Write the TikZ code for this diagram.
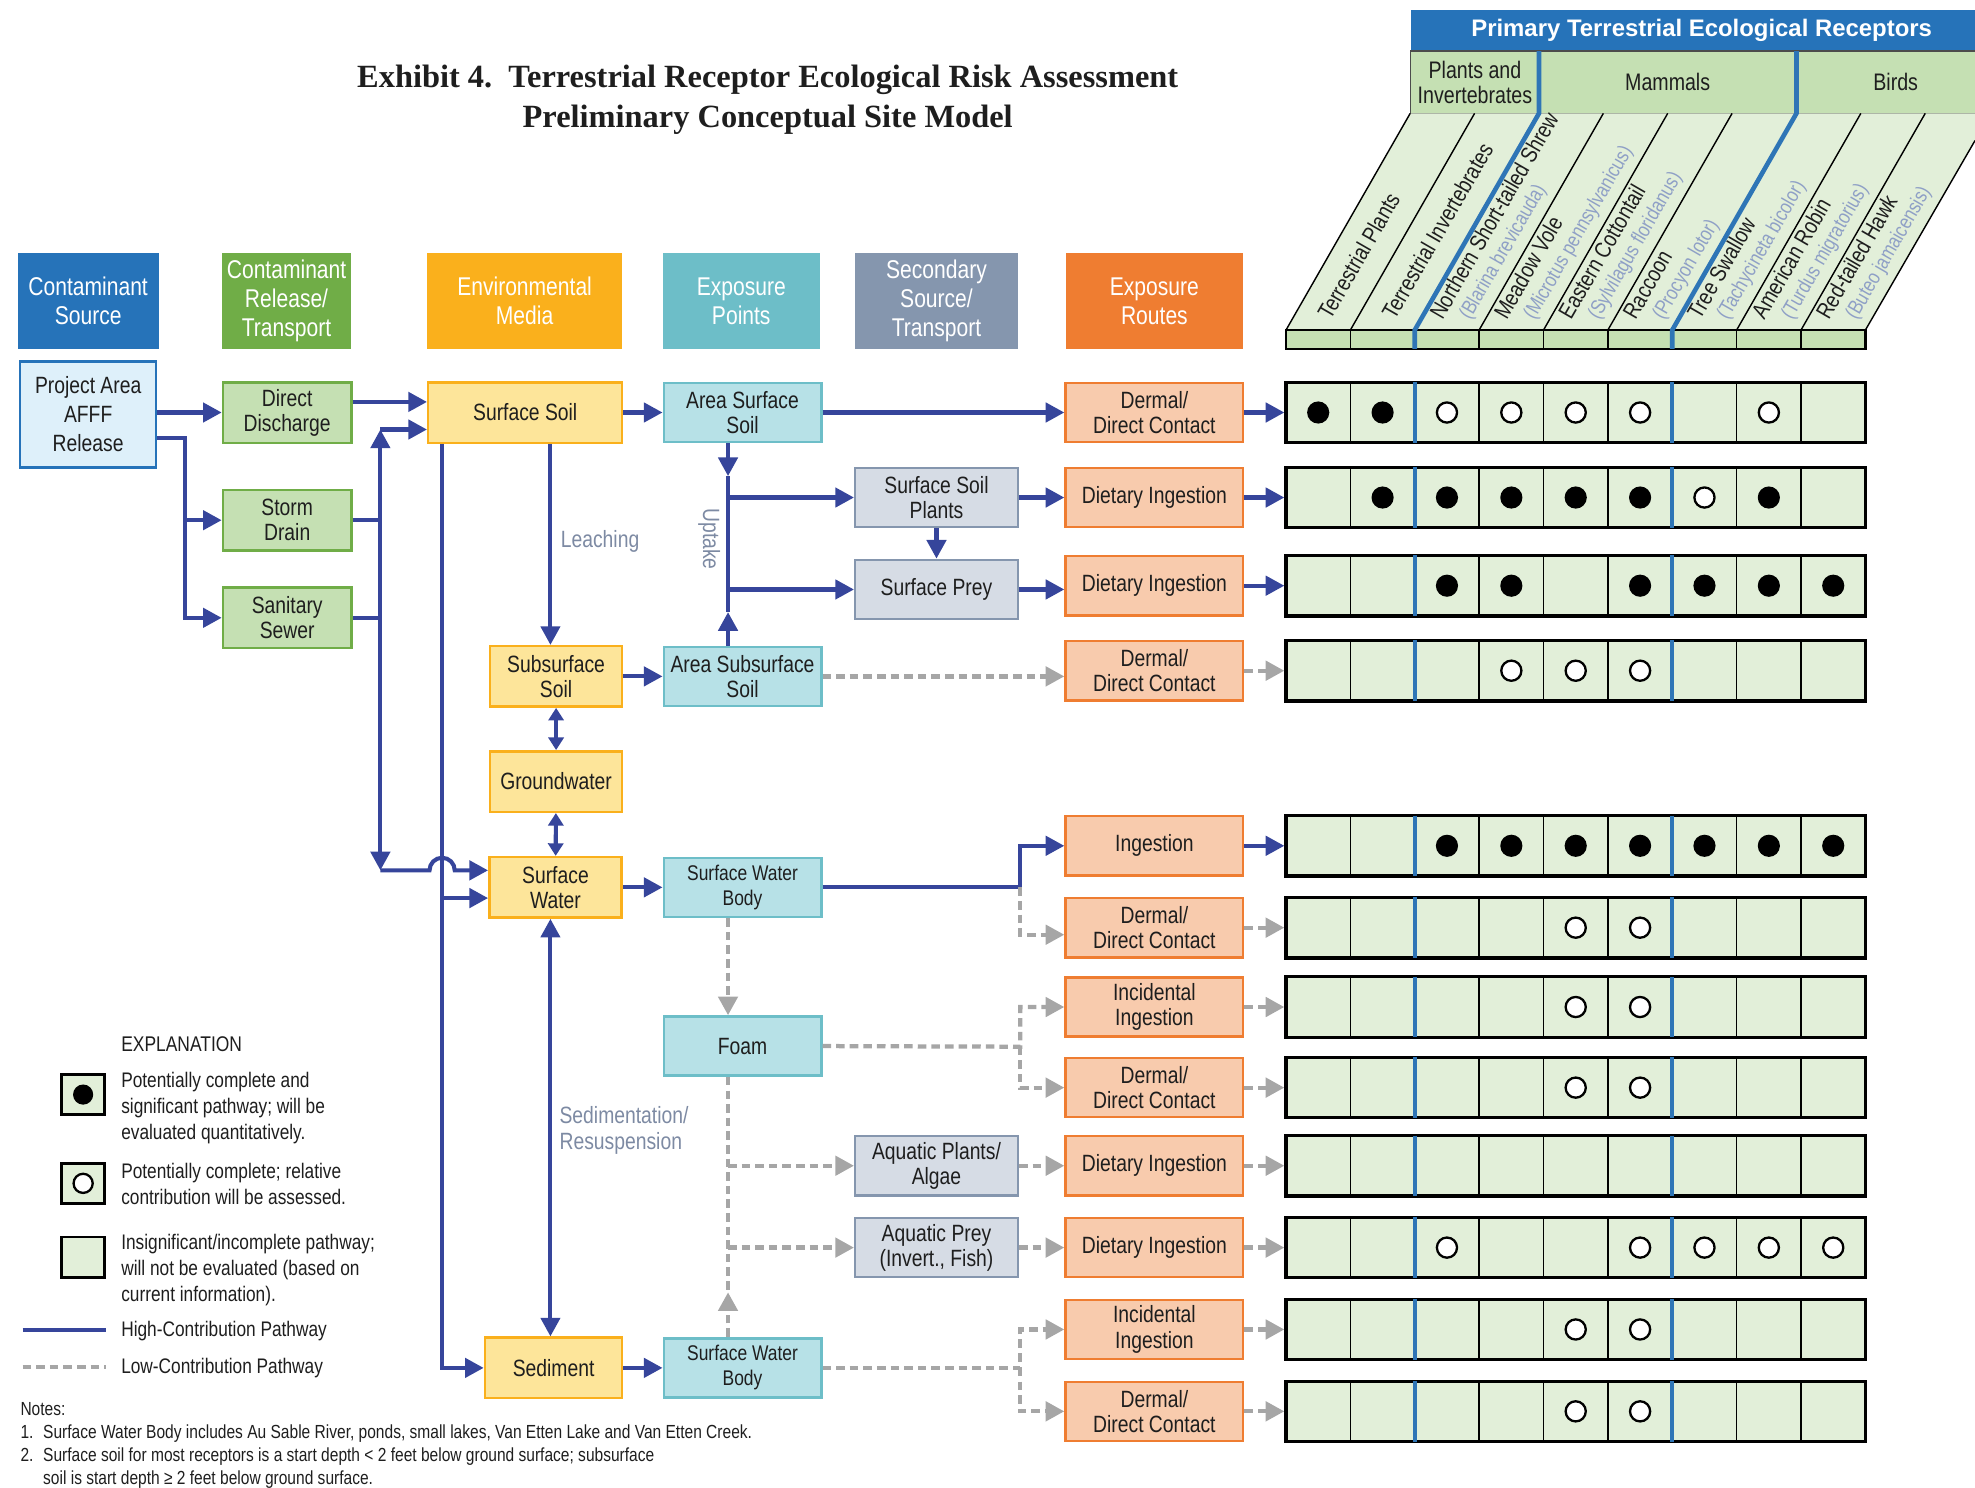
\documentclass[tikz,border=0pt]{standalone}
\usepackage{fontspec}
\setmainfont{Liberation Sans}[FakeStretch=0.82]
\newfontfamily\widefont{Liberation Sans}
\newfontfamily\titlefont{Liberation Serif}
\usepackage{tikz}
\definecolor{srcblue}{RGB}{38,115,185}
\definecolor{srcfill}{RGB}{222,240,250}
\definecolor{relgreen}{RGB}{112,173,71}
\definecolor{relfill}{RGB}{197,224,179}
\definecolor{medorange}{RGB}{250,176,28}
\definecolor{medfill}{RGB}{253,229,154}
\definecolor{ptteal}{RGB}{109,190,200}
\definecolor{ptfill}{RGB}{183,225,231}
\definecolor{secgray}{RGB}{133,150,174}
\definecolor{secfill}{RGB}{214,220,229}
\definecolor{rtorange}{RGB}{239,125,49}
\definecolor{rtfill}{RGB}{248,203,173}
\definecolor{cellfill}{RGB}{226,239,217}
\definecolor{linkblue}{RGB}{54,69,155}
\definecolor{linkgray}{RGB}{166,166,166}
\definecolor{sepblue}{RGB}{46,117,182}
\definecolor{notegray}{RGB}{125,138,163}
\definecolor{latingray}{RGB}{143,160,198}
\definecolor{ink}{RGB}{30,30,30}
\usetikzlibrary{arrows.meta}

\begin{document}
\begin{tikzpicture}[x=0.025cm, y=-0.025cm]
    \tikzstyle{box} = [rectangle, line width=1.4pt, align=center, inner sep=1pt, text=ink,
                       font=\fontsize{13.3}{14.2}\selectfont]
    \tikzstyle{hdr} = [rectangle, align=center, inner sep=1pt, text=white, minimum height=1.9cm,
                       font=\fontsize{14.5}{16.4}\selectfont]
    \tikzstyle{srcbox} = [box, draw=srcblue, fill=srcfill, minimum width=2.7cm, minimum height=2.1cm,
                          font=\fontsize{13.3}{16.4}\selectfont]
    \tikzstyle{relbox} = [box, draw=relgreen, fill=relfill, minimum width=2.55cm, minimum height=1.2cm]
    \tikzstyle{medbox} = [box, draw=medorange, fill=medfill, minimum width=2.625cm, minimum height=1.2cm]
    \tikzstyle{ptbox} = [box, draw=ptteal, fill=ptfill, minimum width=3.125cm, minimum height=1.175cm]
    \tikzstyle{secbox} = [box, draw=secgray, fill=secfill, minimum width=3.225cm, minimum height=1.175cm]
    \tikzstyle{rtbox} = [box, draw=rtorange, fill=rtfill, minimum width=3.525cm, minimum height=1.175cm]
    \tikzstyle{cellrow} = [rectangle, draw=black, fill=cellfill, line width=1.8pt,
                           minimum width=11.5cm, minimum height=1.2cm, inner sep=0pt]
    \tikzstyle{grp} = [rectangle, draw=black!70, fill=relfill, line width=0.8pt, minimum height=1.2375cm,
                       inner sep=0pt, align=center, text=ink, font=\fontsize{13.5}{14.2}\selectfont]
    \tikzstyle{hi} = [draw=linkblue, line width=2.3pt, -{Triangle[length=0.37cm, width=0.38cm]}]
    \tikzstyle{hiboth} = [draw=linkblue, line width=2.3pt,
                          {Triangle[length=0.37cm, width=0.38cm]}-{Triangle[length=0.37cm, width=0.38cm]}]
    \tikzstyle{hismall} = [draw=linkblue, line width=2.3pt,
                           {Triangle[length=0.25cm, width=0.3cm]}-{Triangle[length=0.25cm, width=0.3cm]}]
    \tikzstyle{lo} = [draw=linkgray, line width=2.4pt, dash pattern=on 0.17cm off 0.1cm,
                      -{Triangle[length=0.37cm, width=0.38cm]}]
    \tikzstyle{note} = [text=notegray, align=left, inner sep=0pt, font=\fontsize{13.3}{14.9}\selectfont]
    \tikzstyle{clab} = [rotate=60, anchor=base west, inner sep=0pt, text=ink, font=\fontsize{13}{13}\selectfont]
    \tikzstyle{clat} = [clab, text=latingray, font=\fontsize{11.7}{12}\selectfont]
    \tikzstyle{keybox} = [rectangle, draw=black, fill=cellfill, line width=1.5pt,
                          minimum width=0.85cm, minimum height=0.8cm]
    \tikzstyle{keytxt} = [anchor=west, align=left, inner sep=0pt, text=ink, font=\fontsize{11.9}{14.7}\selectfont]

    \useasboundingbox (0,0) rectangle (1568,1181);

    % Title
    \node[align=center, text=ink, font=\titlefont\bfseries\fontsize{18.3}{22.7}\selectfont] (title) at (609.5,79)
        {Exhibit 4.\ \ Terrestrial Receptor Ecological Risk Assessment\\Preliminary Conceptual Site Model};

    % Column headers
    \node[hdr, fill=srcblue, minimum width=2.8cm] (hsrc) at (70,239) {Contaminant\\Source};
    \node[hdr, fill=relgreen, minimum width=2.575cm] (hrel) at (227.5,239) {Contaminant\\Release/\\Transport};
    \node[hdr, fill=medorange, minimum width=3.875cm] (hmed) at (416.5,239) {Environmental\\Media};
    \node[hdr, fill=ptteal, minimum width=3.125cm] (hpt) at (588.5,239) {Exposure\\Points};
    \node[hdr, fill=secgray, minimum width=3.225cm] (hsec) at (743.5,239) {Secondary\\Source/\\Transport};
    \node[hdr, fill=rtorange, minimum width=3.525cm] (hrt) at (916.5,239) {Exposure\\Routes};

    % Source and release
    \node[srcbox] (pa) at (70,329) {Project Area\\AFFF\\Release};
    \node[relbox] (dd) at (228,327.5) {Direct\\Discharge};
    \node[relbox] (sd) at (228,413) {Storm\\Drain};
    \node[relbox] (ss) at (228,490.5) {Sanitary\\Sewer};

    % Environmental media
    \node[medbox, minimum width=3.85cm] (ssoil) at (417,327.5) {Surface Soil};
    \node[medbox] (sub) at (441.5,537) {Subsurface\\Soil};
    \node[medbox] (gw) at (441.5,620.5) {Groundwater};
    \node[medbox] (sw) at (441,704.5) {Surface\\Water};
    \node[medbox, minimum width=2.725cm] (sed) at (439.5,1086) {Sediment};

    % Exposure points
    \node[ptbox] (ass) at (589.5,327.5) {Area Surface\\Soil};
    \node[ptbox] (asub) at (589.5,537) {Area Subsurface\\Soil};
    \node[ptbox, font=\fontsize{12}{14.2}\selectfont] (swb1) at (589.5,704.5) {Surface Water\\Body};
    \node[ptbox] (foam) at (589.5,830.5) {Foam};
    \node[ptbox, font=\fontsize{12}{14.2}\selectfont] (swb2) at (589.5,1086) {Surface Water\\Body};

    % Secondary sources
    \node[secbox] (ssp) at (743.5,395) {Surface Soil\\Plants};
    \node[secbox] (sprey) at (743.5,468) {Surface Prey};
    \node[secbox] (aqp) at (743.5,925.5) {Aquatic Plants/\\Algae};
    \node[secbox] (aqpy) at (743.5,990.5) {Aquatic Prey\\(Invert., Fish)};

    % Exposure routes
    \node[rtbox] (er1) at (916.5,327.5) {Dermal/\\Direct Contact};
    \node[rtbox] (er2) at (916.5,395) {Dietary Ingestion};
    \node[rtbox] (er3) at (916.5,465) {Dietary Ingestion};
    \node[rtbox] (er4) at (916.5,532.5) {Dermal/\\Direct Contact};
    \node[rtbox] (er5) at (916.5,671.5) {Ingestion};
    \node[rtbox] (er6) at (916.5,736.5) {Dermal/\\Direct Contact};
    \node[rtbox] (er7) at (916.5,799.5) {Incidental\\Ingestion};
    \node[rtbox] (er8) at (916.5,863.5) {Dermal/\\Direct Contact};
    \node[rtbox] (er9) at (916.5,925.5) {Dietary Ingestion};
    \node[rtbox] (er10) at (916.5,990.5) {Dietary Ingestion};
    \node[rtbox] (er11) at (916.5,1055.5) {Incidental\\Ingestion};
    \node[rtbox] (er12) at (916.5,1120.5) {Dermal/\\Direct Contact};

    % Receptor rows (1 = significant, 2 = complete, 0 = none)
    \foreach \i/\y/\marks in {1/327.5/{1,1,2,2,2,2,0,2,0}, 2/395/{0,1,1,1,1,1,2,1,0},
                              3/465/{0,0,1,1,0,1,1,1,1}, 4/532.5/{0,0,0,2,2,2,0,0,0},
                              5/671.5/{0,0,1,1,1,1,1,1,1}, 6/736.5/{0,0,0,0,2,2,0,0,0},
                              7/799.5/{0,0,0,0,2,2,0,0,0}, 8/863.5/{0,0,0,0,2,2,0,0,0},
                              9/925.5/{0,0,0,0,0,0,0,0,0}, 10/990.5/{0,0,2,0,0,2,2,2,2},
                              11/1055.5/{0,0,0,0,2,2,0,0,0}, 12/1120.5/{0,0,0,0,2,2,0,0,0}} {
        \node[cellrow] (g\i) at (1251,\y) {};
        \foreach \c in {1,3,4,5,7,8} \draw[line width=0.8pt] ({1021+51.11*\c},\y-24) -- ++(0,48);
        \foreach \c in {2,6} \draw[sepblue, line width=2.4pt] ({1021+51.11*\c},\y-24) -- ++(0,48);
        \foreach \m [count=\c] in \marks {
            \ifnum\m=1 \fill ({1021+51.11*(\c-0.5)},\y) circle (0.22cm); \fi
            \ifnum\m=2 \draw[line width=1.3pt, fill=white] ({1021+51.11*(\c-0.5)},\y) circle (0.2cm); \fi
        }
    }

    % Receptor header
    \node[rectangle, fill=srcblue, text=white, inner sep=0pt, minimum width=11.55cm, minimum height=0.81cm,
          font=\widefont\bfseries\fontsize{13.5}{14}\selectfont] (prim) at (1351,24.25)
        {Primary Terrestrial Ecological Receptors};
    \node[grp, minimum width=2.55cm] (plants) at (1171,65.25) {Plants and\\Invertebrates};
    \node[grp, minimum width=5.1cm] (mammals) at (1324,65.25) {Mammals};
    \node[grp, minimum width=3.95cm] (birds) at (1505,65.25) {Birds};

    \fill[cellfill] (1021,262) -- (1120,90) -- (1568,90) -- (1568,111.6) -- (1481,262) -- cycle;
    \foreach \c in {0,1,3,4,5,7,8} \draw[line width=0.8pt] ({1021+51.11*\c},262) -- ++(98.6,-172);
    \draw[line width=0.8pt] (1481,262) -- (1568,111.6);
    \node[rectangle, draw=black, fill=relfill, line width=1.2pt, inner sep=0pt,
          minimum width=11.5cm, minimum height=0.375cm] (base) at (1251,269.5) {};
    \foreach \c in {1,3,4,5,7,8} \draw[line width=0.8pt] ({1021+51.11*\c},262) -- ++(0,15);
    \foreach \c in {2,6} \draw[sepblue, line width=2.6pt] ({1021+51.11*\c},277) -- ++(0,-15) -- ++(98.6,-172) -- ++(0,-49.5);

    % Receptor names
    \node[clab] (lplant) at (1056.2,255) {Terrestrial Plants};
    \node[clab] (linv) at (1107.3,255) {Terrestrial Invertebrates};
    \node[clab] (lshrew) at (1145.1,255) {Northern Short-tailed Shrew};
    \node[clat] (lshrewl) at (1167,255) {(Blarina brevicauda)};
    \node[clab] (lvole) at (1196.2,255) {Meadow Vole};
    \node[clat] (lvolel) at (1218.1,255) {(Microtus pennsylvanicus)};
    \node[clab] (lcott) at (1247.3,255) {Eastern Cottontail};
    \node[clat] (lcottl) at (1269.2,255) {(Sylvilagus floridanus)};
    \node[clab] (lrac) at (1298.5,255) {Raccoon};
    \node[clat] (lracl) at (1320.4,255) {(Procyon lotor)};
    \node[clab] (lswal) at (1349.6,255) {Tree Swallow};
    \node[clat] (lswall) at (1371.5,255) {(Tachycineta bicolor)};
    \node[clab] (lrob) at (1400.7,255) {American Robin};
    \node[clat] (lrobl) at (1422.6,255) {(Turdus migratorius)};
    \node[clab] (lhawk) at (1451.8,255) {Red-tailed Hawk};
    \node[clat] (lhawkl) at (1473.7,255) {(Buteo jamaicensis)};

    % Release connections
    \coordinate (pab) at (147,348);
    \draw[hi] (pa.east |- dd.west) -- (dd.west);
    \draw[hi] (pa.east |- pab) -- (pab) |- (sd);
    \draw[hi] (pab) |- (ss);
    \coordinate (ddout) at ([yshift=0.21cm]dd.east);
    \draw[hi] (ddout) -- (ddout -| ssoil.west);

    \coordinate (busT) at (302,341);
    \coordinate (busB) at (302,691);
    \coordinate (hopA) at (341,691);
    \coordinate (hopB) at (361,691);
    \draw[hi, -] (sd.east) -- (sd.east -| busT);
    \draw[hi, -] (ss.east) -- (ss.east -| busT);
    \draw[hi] (ss.east -| busT) -- (busT);
    \draw[hi] (busT) -- (busT -| ssoil.west);
    \draw[hi] (sd.east -| busT) -- (busB);
    \draw[hi] (busB) -- (hopA) arc[start angle=180, end angle=0, radius=0.25cm] -- (hopB -| sw.west);

    % Media connections
    \coordinate (swlow) at (351,713);
    \coordinate (lx) at (437,430);
    \draw[hi] (ssoil.south -| swlow) |- (sed.west);
    \draw[hi] (swlow) -- (swlow -| sw.west);
    \draw[hi] (ssoil.south -| lx) -- (sub.north -| lx);
    \draw[hismall] (sub) -- (gw);
    \draw[hismall] (gw) -- (sw);
    \draw[hiboth] (sw.south -| lx) -- (sed.north -| lx);
    \draw[hi] (ssoil) -- (ass);
    \draw[hi] (sub) -- (asub);
    \draw[hi] (sw) -- (swb1);
    \draw[hi] (sed) -- (swb2);

    \node[note, anchor=west] (leach) at (445,430) {Leaching};
    \node[note, rotate=-90] (uptake) at (563,428) {Uptake};
    \node[note, anchor=west] (sedres) at (444,897.5) {Sedimentation/\\Resuspension};

    % Exposure point connections
    \coordinate (upT) at (578,378);
    \coordinate (upB) at (578,486);
    \draw[hi] (ass) -- (er1);
    \draw[hi] (ass.south -| upT) -- (upT);
    \draw[hi] (asub.north -| upB) -- (upB);
    \draw[hi, -] (upT) -- (upB);
    \draw[hi] (upT |- ssp.west) -- (ssp.west);
    \draw[hi] (upT |- sprey.west) -- (sprey.west);
    \draw[hi] (ssp) -- (er2);
    \draw[hi] (ssp) -- (sprey);
    \draw[hi] (sprey.east) -- (sprey.east -| er3.west);
    \draw[lo] (asub.east) -- (asub.east -| er4.west);

    \coordinate (swj) at (810,704.5);
    \draw[hi] (swb1) -- (swj) |- (er5.west);
    \draw[lo] (swj) |- ([yshift=-0.14cm]er6.west);
    \draw[lo] (swb1.south -| upT) -- (foam.north -| upT);

    \coordinate (fj) at (810,831);
    \draw[lo] (foam.east) -- (fj) |- (er7.west);
    \draw[lo] (fj) |- (er8.west);

    \coordinate (aqT) at (578,1026);
    \draw[lo, -] (foam.south -| aqT) -- (aqT);
    \draw[lo] (swb2.north -| aqT) -- (aqT);
    \draw[lo] (aqT |- aqp.west) -- (aqp.west);
    \draw[lo] (aqT |- aqpy.west) -- (aqpy.west);
    \draw[lo] (aqp) -- (er9);
    \draw[lo] (aqpy) -- (er10);

    \coordinate (sj) at (810,1086);
    \draw[lo] (swb2) -- (sj) |- (er11.west);
    \draw[lo] (sj) |- (er12.west);

    % Routes to receptors
    \draw[hi] (er1) -- (g1);
    \draw[hi] (er2) -- (g2);
    \draw[hi] (er3) -- (g3);
    \draw[lo] (er4) -- (g4);
    \draw[hi] (er5) -- (g5);
    \draw[lo] (er6) -- (g6);
    \draw[lo] (er7) -- (g7);
    \draw[lo] (er8) -- (g8);
    \draw[lo] (er9) -- (g9);
    \draw[lo] (er10) -- (g10);
    \draw[lo] (er11) -- (g11);
    \draw[lo] (er12) -- (g12);

    % Explanation
    \node[anchor=west, inner sep=0pt, text=ink, font=\fontsize{12}{12}\selectfont] (expl) at (96,829) {EXPLANATION};
    \node[keybox] (k1) at (66,869) {};
    \fill (k1) circle (0.2cm);
    \node[keytxt] (t1) at (96,879.5) {Potentially complete and\\significant pathway; will be\\evaluated quantitatively.};
    \node[keybox] (k2) at (66,939.5) {};
    \draw[line width=1.3pt, fill=white] (k2) circle (0.19cm);
    \node[keytxt] (t2) at (96,940) {Potentially complete; relative\\contribution will be assessed.};
    \node[keybox] (k3) at (66,998) {};
    \node[keytxt] (t3) at (96,1008.5) {Insignificant/incomplete pathway;\\will not be evaluated (based on\\current information).};
    \coordinate (khA) at (18,1056);
    \coordinate (khB) at (84,1056);
    \draw[hi, -] (khA) -- (khB);
    \node[keytxt] (t4) at (96,1057) {High-Contribution Pathway};
    \coordinate (klA) at (18,1085);
    \coordinate (klB) at (84,1085);
    \draw[lo, -] (klA) -- (klB);
    \node[keytxt] (t5) at (96,1086) {Low-Contribution Pathway};

    % Notes
    \node[anchor=north west, align=left, inner sep=0pt, text=ink, font=\fontsize{10.7}{13}\selectfont] (notes) at (16,1113)
        {Notes:\\
         \makebox[0.45cm][l]{1.}Surface Water Body includes Au Sable River, ponds, small lakes, Van Etten Lake and Van Etten Creek.\\
         \makebox[0.45cm][l]{2.}Surface soil for most receptors is a start depth < 2 feet below ground surface; subsurface\\
         \hspace*{0.45cm}soil is start depth ≥ 2 feet below ground surface.};
\end{tikzpicture}
\end{document}
